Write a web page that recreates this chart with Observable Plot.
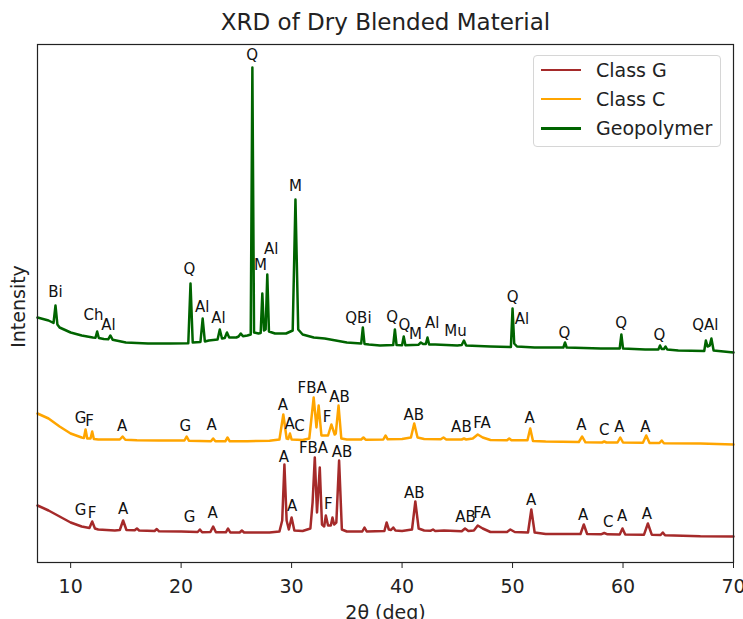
<!DOCTYPE html>
<html>
<head>
<meta charset="utf-8">
<script src="https://cdn.jsdelivr.net/npm/d3@7"></script>
<script src="https://cdn.jsdelivr.net/npm/@observablehq/plot@0.6"></script>
<style>
  html, body { margin: 0; padding: 0; background: #fff; }
  #chart { position: relative; width: 743px; height: 619px; font-family: "DejaVu Sans", sans-serif; }
  .legend { position: absolute; left: 533px; top: 55px; width: 188px; height: 92px;
            border: 1px solid #d6d6d6; border-radius: 4px; background: rgba(255,255,255,0.85); box-sizing: border-box; }
  .legend .row { position: absolute; left: 0; height: 24px; display: flex; align-items: center; }
  .legend .swatch { display: inline-block; width: 40px; height: 2.5px; margin-left: 7px; }
  .legend .name { margin-left: 15px; font-size: 19px; color: #222; }
</style>
</head>
<body>
<div id="chart"></div>
<script>
// XRD patterns of the dry blended materials: [2θ (deg), intensity (a.u.)]
const classG = [
  [7.0,570],[8.0,520],[9.0,460],[10.0,400],[11.0,360],[11.7,345],[11.95,410],[12.2,340],[12.5,330],
  [14.0,320],[14.45,325],[14.75,420],[15.05,325],[15.8,322],[16.0,340],[16.2,320],[17.6,315],[17.8,335],
  [18.0,312],[20.0,310],[21.5,305],[21.7,330],[21.9,302],[22.65,305],[22.9,360],[23.15,303],[24.05,302],
  [24.25,340],[24.45,300],[25.3,300],[25.5,320],[25.7,300],[28.0,300],[28.9,310],[29.15,420],[29.35,980],
  [29.55,420],[29.75,330],[30.0,450],[30.25,320],[31.0,315],[31.7,340],[31.9,600],[32.1,1050],[32.3,500],
  [32.55,950],[32.75,380],[32.95,360],[33.1,470],[33.3,370],[33.55,370],[33.7,450],[33.85,380],[34.05,400],
  [34.3,1020],[34.55,330],[35.0,310],[36.4,310],[36.6,350],[36.8,310],[38.4,315],[38.6,400],[38.8,330],
  [39.0,325],[39.2,350],[39.4,320],[40.0,315],[40.9,330],[41.2,610],[41.5,340],[42.0,320],[42.6,318],
  [42.8,330],[43.0,315],[43.8,320],[45.4,312],[45.7,340],[46.0,315],[46.5,320],[46.85,370],[47.3,340],
  [48.0,305],[49.5,305],[49.8,330],[50.2,305],[51.4,300],[51.7,530],[52.0,300],[53.0,285],[56.15,285],
  [56.45,380],[56.75,285],[58.0,282],[58.3,295],[58.6,282],[59.7,280],[59.95,340],[60.2,280],[61.9,278],
  [62.25,390],[62.6,278],[63.4,275],[63.6,300],[63.8,272],[67.0,262],[70.0,260]
];
const classC = [
  [7.0,540],[8.0,490],[9.0,410],[10.0,340],[11.0,300],[11.2,295],[11.35,380],[11.5,290],[11.8,290],
  [11.95,360],[12.1,285],[12.5,280],[14.45,280],[14.7,310],[14.95,278],[16.0,272],[18.0,270],[20.3,270],
  [20.5,310],[20.7,268],[22.7,262],[22.9,290],[23.1,262],[24.0,262],[24.2,300],[24.4,262],[26.0,262],
  [28.0,268],[28.9,280],[29.25,530],[29.55,290],[29.7,285],[29.85,340],[30.0,280],[31.0,275],[31.6,290],
  [32.0,700],[32.25,400],[32.45,620],[32.7,320],[33.3,320],[33.6,430],[33.9,330],[34.0,340],[34.25,620],
  [34.5,290],[35.0,280],[36.3,280],[36.5,300],[36.7,278],[38.3,280],[38.5,320],[38.7,282],[40.0,285],
  [40.8,300],[41.1,440],[41.4,300],[42.0,285],[43.5,282],[43.75,300],[44.0,280],[45.4,280],[45.6,290],
  [45.8,280],[46.4,290],[46.85,330],[47.3,300],[48.0,275],[49.5,272],[49.7,290],[49.9,272],[51.35,272],
  [51.6,390],[51.85,265],[53.0,260],[56.0,255],[56.3,310],[56.6,252],[58.1,250],[58.3,260],[58.5,250],
  [59.5,250],[59.75,300],[60.0,250],[61.8,248],[62.1,320],[62.4,246],[63.3,245],[63.5,270],[63.7,243],
  [67.0,240],[70.0,230]
];
const geopolymer = [
  [7.0,550],[8.0,520],[8.45,495],[8.63,670],[8.8,480],[9.0,450],[10.0,400],[11.0,370],[12.0,350],
  [12.25,348],[12.4,410],[12.55,345],[13.0,335],[13.4,332],[13.6,370],[13.8,328],[15.0,300],[17.0,290],
  [19.0,290],[20.65,292],[20.85,890],[21.05,300],[21.75,305],[21.95,540],[22.15,310],[22.5,320],[23.3,330],
  [23.5,430],[23.7,340],[23.95,345],[24.15,400],[24.35,350],[25.0,350],[25.2,360],[25.4,390],[25.6,362],
  [26.0,370],[26.3,380],[26.45,3050],[26.6,400],[27.0,390],[27.2,395],[27.35,790],[27.5,420],[27.65,430],
  [27.8,980],[27.95,410],[28.5,390],[29.5,390],[30.1,420],[30.35,1730],[30.6,430],[31.0,380],[32.0,350],
  [33.0,340],[35.0,300],[36.3,290],[36.45,450],[36.6,285],[37.0,280],[38.0,270],[39.2,275],[39.35,430],
  [39.5,275],[40.0,272],[40.15,360],[40.3,272],[41.5,278],[41.7,300],[41.9,285],[42.15,285],[42.3,350],
  [42.45,280],[43.0,280],[45.0,270],[45.4,275],[45.6,320],[45.8,270],[48.0,260],[49.85,255],[50.0,640],
  [50.15,290],[50.4,260],[52.0,250],[54.6,250],[54.75,300],[54.9,250],[58.0,240],[59.7,240],[59.85,380],
  [60.0,240],[62.0,230],[63.2,230],[63.35,270],[63.5,235],[63.7,235],[63.85,260],[64.0,230],[65.0,220],
  [67.35,215],[67.5,320],[67.65,260],[67.85,270],[68.0,340],[68.2,220],[70.0,200]
];

// Phase labels: [text, 2θ, intensity before offset]
const labelsG = [
  ["G",10.89,520],["F",11.95,490],["A",14.76,530],["G",20.76,450],["A",22.86,490],["A",29.29,1050],
  ["A",30.05,560],["FBA",31.98,1140],["F",33.33,580],["AB",34.57,1100],["AB",41.1,690],["AB",45.74,450],
  ["FA",47.24,490],["A",51.68,620],["A",56.38,470],["C",58.67,400],["A",59.91,460],["A",62.17,480]
];
const labelsC = [
  ["G",10.89,490],["F",11.71,460],["A",14.66,410],["G",20.39,410],["A",22.75,420],["A",29.2,620],
  ["A",29.83,430],["C",30.71,410],["FBA",31.86,790],["F",33.22,500],["AB",34.33,700],["AB",41.06,520],
  ["AB",45.37,400],["FA",47.24,440],["A",51.55,490],["A",56.23,420],["C",58.31,370],["A",59.67,400],["A",62.02,400]
];
const labelsGeo = [
  ["Bi",8.63,800],["Ch",12.07,570],["Al",13.43,470],["Q",20.76,1030],["Al",21.9,650],["Al",23.38,540],
  ["Q",26.43,3170],["M",27.18,1070],["Al",28.15,1230],["M",30.35,1860],["QBi",36.05,540],["Q",39.1,550],
  ["Q",40.21,470],["M",41.21,380],["Al",42.72,490],["Mu",44.83,410],["Q",50.01,750],["Al",50.86,530],
  ["Q",54.69,390],["Q",59.82,490],["Q",63.29,370],["QAl",67.45,470]
];

const seriesNames = ["Class G", "Class C", "Geopolymer"];
const seriesColors = ["#a52a2a", "#ffa500", "#006400"];
const seriesOffsets = [0, 950, 1900];   // vertical stacking of the patterns
const xTicks = [10, 20, 30, 40, 50, 60, 70];
const xDomain = [7, 70];
const yDomain = [0, 5180];

const patterns = [classG, classC, geopolymer];
const labelSets = [labelsG, labelsC, labelsGeo];

const lineMarks = patterns.map((data, i) =>
  Plot.line(data, {
    x: d => d[0], y: d => d[1] + seriesOffsets[i],
    stroke: seriesColors[i], strokeWidth: 2.5, strokeLinejoin: "round"
  })
);
const labelMarks = labelSets.map((data, i) =>
  Plot.text(data, {
    x: d => d[1], y: d => d[2] + seriesOffsets[i], text: d => d[0],
    fontSize: 15, fill: "#111"
  })
);

const plot = Plot.plot({
  width: 743,
  height: 619,
  marginTop: 44,
  marginBottom: 57,
  marginLeft: 37,
  marginRight: 10,
  style: { fontFamily: "DejaVu Sans, sans-serif", background: "#fff", color: "#222" },
  x: { domain: xDomain },
  y: { domain: yDomain, axis: null },
  marks: [
    ...lineMarks,
    ...labelMarks,
    Plot.frame({ stroke: "#222", strokeWidth: 1.2 }),
    Plot.axisX({ ticks: xTicks, tickSize: 6, tickPadding: 11, fontSize: 19, label: null, stroke: "#222" }),
    Plot.text(["2θ (deg)"], { frameAnchor: "bottom", lineAnchor: "middle", dy: 50, fontSize: 19, fill: "#222" }),
    Plot.text(["Intensity"], { frameAnchor: "left", textAnchor: "middle", lineAnchor: "middle", rotate: -90, dx: -19, dy: 3, fontSize: 19, fill: "#222" }),
    Plot.text(["XRD of Dry Blended Material"], { frameAnchor: "top", lineAnchor: "middle", dy: -22, fontSize: 23, fill: "#222" })
  ]
});

const chart = document.getElementById("chart");
chart.appendChild(plot);

// Legend box in the upper right corner of the frame
const legend = document.createElement("div");
legend.className = "legend";
seriesNames.forEach((name, i) => {
  const row = document.createElement("div");
  row.className = "row";
  row.style.top = (2 + i * 29.2) + "px";
  const sw = document.createElement("span");
  sw.className = "swatch";
  sw.style.background = seriesColors[i];
  const tx = document.createElement("span");
  tx.className = "name";
  tx.textContent = name;
  row.appendChild(sw);
  row.appendChild(tx);
  legend.appendChild(row);
});
chart.appendChild(legend);
</script>
</body>
</html>
